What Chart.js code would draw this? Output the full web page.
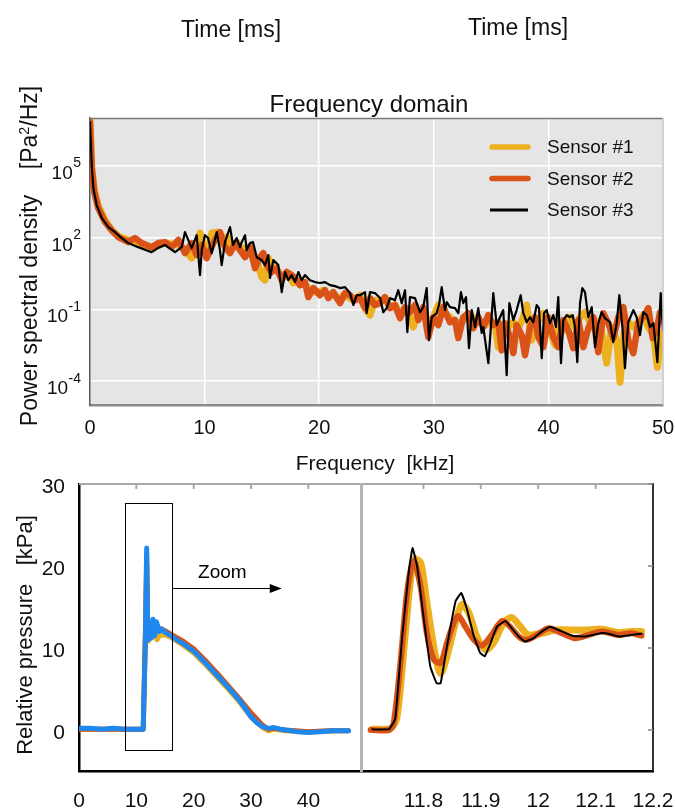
<!DOCTYPE html>
<html><head><meta charset="utf-8">
<script src="https://cdn.jsdelivr.net/npm/chart.js@4/dist/chart.umd.min.js"></script>
<style>
html,body{margin:0;padding:0;background:#fff;width:675px;height:812px;overflow:hidden;font-family:"Liberation Sans",Arial,sans-serif;color:#111}
canvas{position:absolute;left:0;top:0}
.t{position:absolute;white-space:nowrap;line-height:1;z-index:5}
.sup{font-size:0.62em;position:relative;top:-0.55em}
</style></head><body>
<canvas id="c1" width="675" height="812"></canvas>
<canvas id="c2" width="675" height="812"></canvas>
<canvas id="c3" width="675" height="812"></canvas>
<div class="t" style="left:231px;top:29px;font-size:23px;transform:translate(-50%,-50%)">Time [ms]</div>
<div class="t" style="left:518px;top:27px;font-size:23px;transform:translate(-50%,-50%)">Time [ms]</div>
<div class="t" style="left:369px;top:104px;font-size:24px;transform:translate(-50%,-50%)">Frequency domain</div>
<div class="t" style="left:29px;top:256px;font-size:23px;transform:translate(-50%,-50%) rotate(-90deg)">Power spectral density&nbsp;&nbsp;&nbsp;&nbsp;[Pa<span class="sup">2</span>/Hz]</div>
<div class="t" style="left:375px;top:462px;font-size:21px;transform:translate(-50%,-50%)">Frequency&nbsp;&nbsp;[kHz]</div>
<div class="t" style="left:25px;top:635px;font-size:22px;transform:translate(-50%,-50%) rotate(-90deg)">Relative pressure&nbsp;&nbsp;&nbsp;[kPa]</div>
<script>
// ---------- DATA ----------
const sensorLabels = ['Sensor #1', 'Sensor #2', 'Sensor #3'];
const freqTicks = [0, 10, 20, 30, 40, 50];
const psdTickExponents = [5, 2, -1, -4];

// Frequency domain (kHz) and log10 of PSD [Pa^2/Hz]
const freqS1 = [0,0.15,0.38,0.72,1.31,1.89,2.47,3.34,4.51,5.38,
 6.54,7.71,8.29,8.87,9.60,10.18,10.62,11.06,11.49,11.93,
 12.36,12.80,13.24,13.67,14.11,14.55,14.98,15.27,15.56,16.00,
 16.43,16.87,17.30,17.74,18.18,18.61,19.05,19.49,19.92,20.36,
 20.79,21.23,21.67,22.10,22.54,22.98,23.56,24.00,24.43,24.87,
 25.31,25.74,26.18,26.61,27.05,27.49,27.92,28.21,28.65,29.08,
 29.52,29.96,30.39,30.83,31.41,31.85,32.29,32.72,33.16,33.60,
 34.03,34.47,34.90,35.34,35.63,36.06,36.50,36.94,37.37,37.81,
 38.11,38.54,38.98,39.56,40.14,40.58,41.01,41.45,41.88,42.32,
 42.76,43.19,43.63,44.07,44.50,45.09,45.52,45.96,46.25,46.60,
 46.97,47.41,47.84,48.28,48.72,49.16,49.51,49.89,50.00];
const psdLogS1 = [6.92,4.99,3.99,3.32,2.73,2.31,2.06,1.90,1.73,1.56,
 1.77,1.69,1.48,1.14,2.19,1.18,2.19,2.23,1.77,2.02,
 1.48,1.81,1.48,1.60,1.35,1.06,0.35,0.22,1.14,0.77,
 0.56,0.35,0.43,0.10,0.22,0.10,-0.11,-0.28,-0.28,-0.20,
 -0.41,-0.32,-0.62,-0.41,-0.49,-0.62,-0.41,-0.95,-1.24,-0.62,
 -0.70,-0.53,-0.91,-0.82,-1.16,-0.95,-1.33,-1.74,-1.16,-1.12,
 -1.54,-1.33,-0.82,-1.12,-1.33,-1.54,-1.58,-1.37,-1.33,-1.37,
 -1.54,-1.66,-1.54,-1.58,-2.58,-1.79,-1.74,-1.54,-1.79,-1.33,
 -0.82,-2.29,-1.58,-1.16,-1.87,-2.50,-1.54,-1.87,-1.33,-1.74,
 -1.33,-1.12,-1.54,-1.87,-1.45,-3.25,-1.74,-2.29,-4.05,-1.99,
 -1.54,-1.74,-1.54,-1.24,-1.74,-2.08,-3.42,-1.99,-2.08];

const freqS2 = [0,0.15,0.38,0.72,1.31,1.89,2.47,3.34,3.93,4.51,
 5.38,5.96,6.54,7.13,7.71,8.29,8.87,9.31,9.75,10.18,
 10.76,11.34,11.78,12.22,12.65,13.09,13.53,13.96,14.40,14.83,
 15.12,15.42,15.86,16.29,16.73,17.16,17.60,18.04,18.32,18.76,
 19.05,19.49,20.07,20.51,20.79,21.23,21.82,22.25,22.69,23.12,
 23.56,24.00,24.43,24.87,25.31,25.74,26.18,26.61,27.05,27.49,
 27.92,28.36,28.65,29.08,29.52,29.96,30.39,30.83,31.41,31.85,
 32.14,32.57,33.01,33.45,33.88,34.32,34.76,35.19,35.63,35.93,
 36.21,36.65,36.94,37.23,37.67,37.96,38.39,38.83,39.12,39.56,
 39.99,40.43,40.86,41.30,41.74,42.17,42.61,43.05,43.48,43.92,
 44.35,44.79,45.23,45.66,46.10,46.54,46.97,47.41,47.84,48.28,
 48.72,49.10,49.45,49.74,50.00];
const psdLogS2 = [6.83,4.91,3.90,3.23,2.65,2.31,2.02,1.81,1.98,1.77,
 1.60,1.77,1.81,1.60,1.90,1.35,1.77,1.27,1.69,1.14,
 1.77,2.23,1.60,1.35,1.77,1.48,1.18,1.60,0.72,1.18,
 1.35,0.85,0.56,0.72,0.22,0.56,0.43,0.22,0.01,0.14,
 -0.49,-0.11,-0.41,-0.20,-0.53,-0.28,-0.74,-0.32,-0.41,-0.62,
 -0.53,-0.95,-0.53,-0.82,-0.74,-0.49,-0.95,-0.82,-1.37,-0.91,
 -1.12,-0.82,-1.45,-0.91,-2.16,-1.33,-1.66,-0.91,-1.54,-1.45,
 -2.20,-1.33,-1.16,-1.79,-1.33,-1.74,-1.24,-1.66,-1.54,-2.71,
 -1.58,-2.16,-2.83,-1.66,-2.08,-2.92,-1.74,-1.33,-2.16,-2.58,
 -1.33,-2.16,-2.58,-1.45,-1.87,-2.62,-1.45,-2.58,-1.79,-1.33,
 -2.79,-1.16,-1.58,-2.20,-1.33,-0.91,-2.29,-2.83,-1.58,-1.33,
 -0.95,-2.20,-1.87,-1.12,-1.24];

const freqS3 = [0,0.15,0.29,0.58,1.02,1.60,2.18,2.77,3.34,4.21,
 5.38,5.93,6.54,7.42,8.00,8.29,8.87,9.31,9.60,9.75,
 10.03,10.30,10.62,11.06,11.34,11.49,11.78,12.22,12.48,12.80,
 13.09,13.24,13.53,13.67,13.96,14.22,14.55,14.98,15.27,15.56,
 15.71,16.00,16.43,16.73,17.02,17.30,17.60,17.89,18.18,18.47,
 18.76,19.20,19.63,20.07,20.51,20.94,21.38,21.82,22.25,22.69,
 22.98,23.27,23.56,24.00,24.14,24.43,24.87,25.31,25.59,25.89,
 26.18,26.61,26.90,27.20,27.49,27.69,27.92,28.36,28.80,29.08,
 29.38,29.58,29.82,30.25,30.45,30.69,30.98,31.13,31.41,31.85,
 32.14,32.37,32.57,32.81,33.07,33.31,33.60,33.88,34.18,34.32,
 34.76,35.19,35.49,35.78,36.06,36.36,36.59,36.94,37.23,37.58,
 37.81,38.11,38.39,38.68,38.98,39.18,39.42,39.62,39.85,40.14,
 40.43,40.66,40.86,41.10,41.30,41.60,41.88,42.12,42.32,42.52,
 42.76,42.96,43.19,43.48,43.78,44.07,44.35,44.65,44.94,45.38,
 45.66,45.96,46.19,46.48,46.68,46.97,47.41,47.70,47.99,48.28,
 48.58,48.87,49.16,49.51,49.80,50.00];
const psdLogS3 = [6.83,5.03,4.07,3.36,2.82,2.44,2.23,1.98,1.77,1.60,
 1.39,1.56,1.69,1.39,1.60,2.23,1.56,2.10,0.43,1.48,
 2.10,1.98,1.35,2.23,1.48,0.85,1.81,2.44,1.69,1.98,
 1.60,1.81,2.10,1.48,1.77,1.81,1.18,1.06,0.85,1.27,
 0.31,1.06,0.85,-0.28,0.56,0.22,0.43,0.14,0.56,0.22,
 0.43,0.22,0.14,0.10,0.14,0.01,-0.03,-0.11,-0.07,-0.32,
 -0.82,-0.41,-0.41,-0.28,-1.16,-0.28,-0.32,-0.53,-1.12,-0.95,
 -0.53,-0.62,-0.20,-0.74,-0.20,-1.95,-0.49,-0.53,-1.12,-0.91,
 -0.11,-2.29,-1.33,-1.16,-0.82,-0.07,-1.03,-0.70,-0.91,-0.95,
 -1.16,-0.28,-0.74,-0.49,-2.62,-1.03,-1.74,-0.95,-1.99,-1.74,
 -3.25,-0.32,-1.66,-1.33,-1.03,-3.75,-0.74,-1.45,-1.03,-0.41,
 -1.16,-1.54,-1.33,-1.54,-0.82,-0.95,-3.04,-1.16,-1.03,-1.58,
 -1.24,-1.74,-0.49,-3.25,-1.45,-1.24,-1.33,-1.24,-1.74,-3.21,
 -0.74,-0.11,-0.28,-1.33,-0.91,-2.58,-1.58,-1.12,-1.37,-1.54,
 -2.37,-1.58,-0.41,-1.87,-3.46,-1.54,-1.03,-1.33,-2.08,-1.12,
 -1.24,-1.74,-1.58,-3.21,-0.32,-1.87];

// Time domain, full record: time [ms], relative pressure [kPa]
const timeTicks = [0, 10, 20, 30, 40];
const pressureTicks = [0, 10, 20, 30];
const timeS1 = [0,5,10,11.2,11.6,11.8,11.95,12.1,12.4,12.8,13.2,13.6,14,15,16,18,20,22,24,26,28,30,32,33,34,36,40,44,47];
const pressS1 = [0.1,0.1,0.1,0.1,13,21.5,14,10.8,12,12.2,11.6,11.0,11.5,11.6,11.3,10.4,9.4,8.0,6.5,5.0,3.4,1.6,0.3,-0.1,0.1,-0.1,-0.2,-0.1,-0.1];
const timeS2 = [0,5,10,11.2,11.6,11.8,11.95,12.1,12.4,12.8,13.2,13.6,14,15,16,18,20,22,24,26,28,30,32,33,34,36,40,44,47];
const pressS2 = [0.1,0.1,0.1,0.1,12,20.5,13,11.5,12.2,12.6,12.3,12.6,12.4,12.1,11.7,10.9,9.9,8.5,7.0,5.4,3.8,2.1,0.6,0.1,0.2,0,-0.2,-0.1,-0.1];
const timeBlue = [0,2,4,6,8,10,11.2,11.6,11.8,11.95,12.1,12.3,12.6,12.9,13.2,13.5,14,14.5,15,16,17,18,19,20,22,24,26,28,30,31,32,33,34,35,36,38,40,42,44,46,47];
const pressBlue = [0.2,0.2,0.1,0.2,0.1,0.1,0.1,12,22.2,14,11,12.5,11.2,13.5,11.5,13.2,12,12.3,11.9,11.5,11,10.6,10.1,9.6,8.2,6.7,5.2,3.6,1.6,0.9,0.4,0.2,0.3,0.1,0,-0.2,-0.3,-0.2,-0.1,-0.1,-0.1];

// Zoom window annotation (data units of the time plot)
const zoomBox = {t0: 8.0, t1: 16.2, p0: -2.45, p1: 27.7};
const zoomArrow = {t0: 16.4, t1: 35.35, p: 17.3};
const zoomText = {t: 25.0, p: 19.2, text: 'Zoom'};

// Time domain, zoomed
const zoomTimeTicks = [11.8, 11.9, 12.0, 12.1, 12.2];
const zoomTimeS1 = [11.711,11.743,11.754,11.769,11.783,11.795,11.806,11.821,11.83,11.841,11.856,11.867,11.879,11.893,11.908,11.922,11.94,11.954,11.969,11.983,12.006,12.03,12.059,12.088,12.111,12.14,12.163,12.18];
const zoomPressS1 = [0.1,0.2,1.6,12.2,20.8,20.4,15.5,9.0,6.9,9.0,13.1,15.3,14.3,11.4,9.8,10.6,13.1,13.7,12.6,11.6,11.8,12.2,12.2,12.2,12.3,11.9,12.0,12.0];
const zoomTimeS2 = [11.708,11.74,11.748,11.76,11.772,11.783,11.795,11.806,11.818,11.83,11.841,11.853,11.861,11.873,11.888,11.902,11.917,11.937,11.951,11.966,11.98,11.998,12.018,12.035,12.064,12.088,12.111,12.14,12.163,12.18];
const zoomPressS2 = [0,0,0.8,8.2,17.1,20.6,17.5,11.8,8.6,8.2,10.6,13.1,13.9,12.6,11.0,10.3,11.4,13.3,12.6,11.4,11.0,11.6,12.4,12.0,11.2,11.6,12.0,11.6,11.8,11.5];
const zoomTimeS3 = [11.711,11.74,11.751,11.763,11.775,11.781,11.789,11.8,11.812,11.823,11.83,11.841,11.856,11.866,11.876,11.888,11.899,11.907,11.917,11.928,11.943,11.954,11.966,11.977,11.992,12.006,12.021,12.035,12.059,12.082,12.108,12.122,12.14,12.163,12.18];
const zoomPressS3 = [0.08,0.1,1.4,11.4,19.6,22.2,20,13.9,7.75,5.7,5.7,10.2,15.7,16.7,14.7,11.4,9.4,9.0,10.6,12.6,13.3,12.4,11.4,10.8,11.2,12.0,12.6,12.2,11.5,11.4,11.8,11.75,11.4,11.6,11.75];

// ---------- STYLE ----------
const YEL = '#EDB120', ORG = '#D95319', BLK = '#000000', BLUE = '#1E88EE';
const FONT = '"Liberation Sans", Arial, sans-serif';
Chart.defaults.font.family = FONT;
Chart.defaults.color = '#111';

const xy = (xs, ys) => xs.map((x, i) => ({x: x, y: ys[i]}));
const xyLog = (xs, ls) => xs.map((x, i) => ({x: x, y: Math.pow(10, ls[i])}));
const setTicks = vals => (s => { s.ticks = vals.map(v => ({value: v})); });
const fixH = h => (s => { s.height = h; s.paddingLeft = 0; s.paddingRight = 0; });
const fixW = w => (s => { s.width = w; s.paddingTop = 0; s.paddingBottom = 0; });

const baseOpts = {
  responsive: false, animation: false, events: [],
  plugins: {legend: {display: false}, tooltip: {enabled: false}, title: {display: false}},
  elements: {point: {radius: 0}, line: {fill: false, borderJoinStyle: 'round', borderCapStyle: 'round'}}
};

// ---------- CHART 1: frequency domain ----------
const bgPlugin = {id: 'bg', beforeDraw(chart) {
  const a = chart.chartArea, c = chart.ctx;
  c.save(); c.fillStyle = '#e5e5e5'; c.fillRect(a.left, a.top, a.right - a.left, a.bottom - a.top); c.restore();
}};
const decor1 = {id: 'decor1', afterDraw(chart) {
  const c = chart.ctx, a = chart.chartArea, y = chart.scales.y;
  c.save();
  c.strokeStyle = '#7a7a7a'; c.lineWidth = 1.5;
  c.beginPath(); c.moveTo(a.left, a.top + 0.5); c.lineTo(a.right, a.top + 0.5); c.stroke();
  c.strokeStyle = '#c4c4c4'; c.lineWidth = 1.5;
  c.beginPath(); c.moveTo(a.right, a.top); c.lineTo(a.right, a.bottom); c.stroke();
  // y tick labels with superscript exponents
  c.fillStyle = '#111'; c.textAlign = 'right'; c.textBaseline = 'alphabetic';
  psdTickExponents.forEach(e => {
    const py = y.getPixelForValue(Math.pow(10, e));
    c.font = '14px ' + FONT;
    const s = String(e);
    const w = c.measureText(s).width;
    c.fillText(s, a.left - 9, py + 1.5);
    c.font = '19px ' + FONT;
    c.fillText('10', a.left - 9 - w - 0.5, py + 13);
  });
  // legend
  const ds = chart.data.datasets;
  const rows = [{i: 0, y: 147, w: 5.5, cap: 'round'}, {i: 1, y: 178.5, w: 5.5, cap: 'round'}, {i: 2, y: 210, w: 3, cap: 'butt'}];
  rows.forEach(r => {
    c.strokeStyle = ds[r.i].borderColor; c.lineWidth = r.w; c.lineCap = r.cap;
    c.beginPath(); c.moveTo(r.cap === 'round' ? 492 : 490, r.y); c.lineTo(528, r.y); c.stroke();
    c.fillStyle = '#111'; c.font = '19px ' + FONT; c.textAlign = 'left'; c.textBaseline = 'middle';
    c.fillText(ds[r.i].label, 547, r.y + 1);
  });
  c.restore();
}};

new Chart(document.getElementById('c1'), {
  type: 'line',
  data: {datasets: [
    {label: sensorLabels[0], data: xyLog(freqS1, psdLogS1), borderColor: YEL, borderWidth: 7, tension: 0, order: 2},
    {label: sensorLabels[1], data: xyLog(freqS2, psdLogS2), borderColor: ORG, borderWidth: 6.5, tension: 0, order: 1},
    {label: sensorLabels[2], data: xyLog(freqS3, psdLogS3), borderColor: BLK, borderWidth: 2.2, tension: 0, order: 0}
  ]},
  options: Object.assign({}, baseOpts, {
    layout: {padding: {left: 0, top: 118, right: 12, bottom: 357}},
    scales: {
      x: {type: 'linear', min: 0, max: 50, afterBuildTicks: setTicks(freqTicks), afterFit: fixH(50),
        ticks: {font: {size: 20}, padding: 11, maxRotation: 0, color: '#111'},
        grid: {color: c => (c.tick && (c.tick.value === 0 || c.tick.value === 50)) ? 'rgba(0,0,0,0)' : '#ffffff', lineWidth: 1.5, drawTicks: false},
        border: {color: '#8a8a8a', width: 2.5}},
      y: {type: 'logarithmic', min: 1e-5, max: 1e7, afterBuildTicks: setTicks(psdTickExponents.map(e => Math.pow(10, e))), afterFit: fixW(90),
        ticks: {display: false},
        grid: {color: '#ffffff', lineWidth: 1.5, drawTicks: false},
        border: {color: '#5a5a5a', width: 1.5}}
    }
  }),
  plugins: [bgPlugin, decor1]
});

// ---------- CHART 2: time domain ----------
const decor2 = {id: 'decor2', afterDraw(chart) {
  const c = chart.ctx, a = chart.chartArea, x = chart.scales.x, y = chart.scales.y;
  c.save();
  c.strokeStyle = '#a9a9a9'; c.lineWidth = 2;
  c.beginPath(); c.moveTo(a.left, a.top); c.lineTo(a.right, a.top); c.stroke();
  timeTicks.slice(1).forEach(v => { const px = x.getPixelForValue(v); c.beginPath(); c.moveTo(px, a.top); c.lineTo(px, a.top + 5); c.stroke(); });
  // zoom box
  c.strokeStyle = '#000'; c.lineWidth = 1;
  const bx0 = x.getPixelForValue(zoomBox.t0), bx1 = x.getPixelForValue(zoomBox.t1);
  const by0 = y.getPixelForValue(zoomBox.p1), by1 = y.getPixelForValue(zoomBox.p0);
  c.strokeRect(Math.round(bx0) + 0.5, Math.round(by0) + 0.5, Math.round(bx1 - bx0), Math.round(by1 - by0));
  // arrow
  const ay = Math.round(y.getPixelForValue(zoomArrow.p)) + 0.5;
  const ax0 = x.getPixelForValue(zoomArrow.t0), ax1 = x.getPixelForValue(zoomArrow.t1);
  c.beginPath(); c.moveTo(ax0, ay); c.lineTo(ax1 - 10, ay); c.stroke();
  c.fillStyle = '#000';
  c.beginPath(); c.moveTo(ax1, ay); c.lineTo(ax1 - 12, ay - 4.5); c.lineTo(ax1 - 12, ay + 4.5); c.closePath(); c.fill();
  c.font = '19px ' + FONT; c.textAlign = 'center'; c.textBaseline = 'middle';
  c.fillText(zoomText.text, x.getPixelForValue(zoomText.t), y.getPixelForValue(zoomText.p));
  c.restore();
}};

new Chart(document.getElementById('c2'), {
  type: 'line',
  data: {datasets: [
    {label: sensorLabels[0], data: xy(timeS1, pressS1), borderColor: YEL, borderWidth: 5, tension: 0, order: 3},
    {label: sensorLabels[1], data: xy(timeS2, pressS2), borderColor: ORG, borderWidth: 5, tension: 0, order: 2},
    {label: 'Blue', data: xy(timeBlue, pressBlue), borderColor: BLUE, borderWidth: 5, tension: 0, order: 0}
  ]},
  options: Object.assign({}, baseOpts, {
    layout: {padding: {left: 0, top: 484, right: 315, bottom: 0}},
    scales: {
      x: {type: 'linear', min: 0, max: 49, afterBuildTicks: setTicks(timeTicks), afterFit: fixH(41),
        ticks: {font: {size: 21}, padding: 18, maxRotation: 0, color: '#111'},
        grid: {display: false, drawTicks: false}, border: {color: '#000', width: 2.5}},
      y: {type: 'linear', min: -5, max: 30, afterBuildTicks: setTicks(pressureTicks), afterFit: fixW(79),
        ticks: {font: {size: 21}, padding: 14, color: '#111', labelOffset: 3},
        grid: {display: false, drawTicks: false}, border: {color: '#000', width: 2.5}}
    }
  }),
  plugins: [decor2]
});

// ---------- CHART 3: zoom ----------
const decor3 = {id: 'decor3', afterDraw(chart) {
  const c = chart.ctx, a = chart.chartArea, x = chart.scales.x, y = chart.scales.y;
  c.save();
  c.strokeStyle = '#a9a9a9'; c.lineWidth = 2;
  c.beginPath(); c.moveTo(a.left, a.top); c.lineTo(a.right, a.top); c.stroke();
  zoomTimeTicks.slice(0, 4).forEach(v => { const px = x.getPixelForValue(v); c.beginPath(); c.moveTo(px, a.top); c.lineTo(px, a.top + 5); c.stroke(); });
  c.strokeStyle = '#b4b4b4'; c.lineWidth = 3;
  c.beginPath(); c.moveTo(a.left - 0.5, a.top - 1); c.lineTo(a.left - 0.5, a.bottom + 1); c.stroke();
  c.strokeStyle = '#333'; c.lineWidth = 2;
  c.beginPath(); c.moveTo(a.right, a.top - 1); c.lineTo(a.right, a.bottom); c.stroke();
  c.strokeStyle = '#888'; c.lineWidth = 1.5;
  pressureTicks.forEach(v => { const py = y.getPixelForValue(v); c.beginPath(); c.moveTo(a.right, py); c.lineTo(a.right - 5, py); c.stroke(); });
  c.restore();
}};

new Chart(document.getElementById('c3'), {
  type: 'line',
  data: {datasets: [
    {label: sensorLabels[0], data: xy(zoomTimeS1, zoomPressS1), borderColor: YEL, borderWidth: 7, tension: 0.3, order: 2},
    {label: sensorLabels[1], data: xy(zoomTimeS2, zoomPressS2), borderColor: ORG, borderWidth: 6, tension: 0.3, order: 1},
    {label: sensorLabels[2], data: xy(zoomTimeS3, zoomPressS3), borderColor: BLK, borderWidth: 2, tension: 0.1, order: 0}
  ]},
  options: Object.assign({}, baseOpts, {
    layout: {padding: {left: 362, top: 484, right: 22, bottom: 0}},
    scales: {
      x: {type: 'linear', min: 11.693, max: 12.2, afterBuildTicks: setTicks(zoomTimeTicks), afterFit: fixH(41),
        ticks: {font: {size: 21}, padding: 18, maxRotation: 0, color: '#111', callback: v => String(Math.round(v * 10) / 10)},
        grid: {display: false, drawTicks: false}, border: {color: '#000', width: 2.5}},
      y: {type: 'linear', min: -5, max: 30, display: false}
    }
  }),
  plugins: [decor3]
});
</script>
</body></html>
